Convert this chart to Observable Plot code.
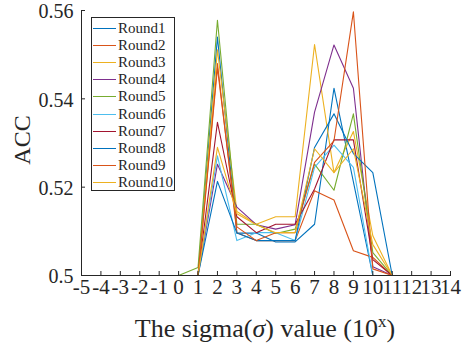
<!DOCTYPE html>
<html>
<head>
<meta charset="utf-8">
<script src="https://cdn.jsdelivr.net/npm/d3@7"></script>
<script src="https://cdn.jsdelivr.net/npm/@observablehq/plot@0.6"></script>
<style>
  body { margin: 0; background: #fff; }
  #chart { position: relative; width: 466px; height: 349px; }
  .legend {
    position: absolute; left: 91px; top: 17px; width: 84px; height: 174px;
    box-sizing: border-box; border: 1px solid #262626; background: #fff;
    padding-top: 2px; font-family: "Liberation Serif", serif; font-size: 15px; color: #262626;
  }
  .legend div { height: 17.1px; display: flex; align-items: center; white-space: nowrap; }
  .legend i { display: inline-block; width: 23px; height: 0; border-top: 1.3px solid; margin: 0 2px 0 1px; }
</style>
</head>
<body>
<div id="chart"></div>
<script>
// sigma exponents on the x axis
const sigma = d3.range(-5, 15);
const xTicks = d3.range(-5, 15);
const yTicks = [0.5, 0.52, 0.54, 0.56];
const yTickLabels = ["0.5", "0.52", "0.54", "0.56"];

const rounds = ["Round1", "Round2", "Round3", "Round4", "Round5",
                "Round6", "Round7", "Round8", "Round9", "Round10"];
// MATLAB default line colour order (cycles after seven)
const colors = ["#0072BD", "#D95319", "#EDB120", "#7E2F8E", "#77AC30",
                "#4DBEEE", "#A2142F", "#0072BD", "#D95319", "#EDB120"];

// accuracy per round, x = -5 … 14
const round1  = [0.5,0.5,0.5,0.5,0.5,0.5,0.5,   0.554, 0.5096,0.5096,0.5076,0.5076,0.5116,0.5424,0.5212,0.5,   0.5,0.5,0.5,0.5];
const round2  = [0.5,0.5,0.5,0.5,0.5,0.5,0.5,   0.548, 0.5097,0.5079,0.5079,0.5079,0.5192,0.5171,0.5056,0.5041,0.5,0.5,0.5,0.5];
const round3  = [0.5,0.5,0.5,0.5,0.5,0.5,0.5,   0.5511,0.5145,0.5116,0.5133,0.5133,0.5523,0.5233,0.5326,0.509, 0.5,0.5,0.5,0.5];
const round4  = [0.5,0.5,0.5,0.5,0.5,0.5,0.5,   0.5252,0.5155,0.5115,0.5105,0.5115,0.537, 0.5522,0.5424,0.502, 0.5,0.5,0.5,0.5];
const round5  = [0.5,0.5,0.5,0.5,0.5,0.5,0.5018,0.5578,0.5116,0.5116,0.5095,0.5105,0.5252,0.5193,0.5366,0.5052,0.5,0.5,0.5,0.5];
const round6  = [0.5,0.5,0.5,0.5,0.5,0.5,0.5,   0.5271,0.5079,0.5097,0.5097,0.5079,0.5245,0.5295,0.5245,0.5,   0.5,0.5,0.5,0.5];
const round7  = [0.5,0.5,0.5,0.5,0.5,0.5,0.5,   0.5347,0.5133,0.5097,0.5116,0.5116,0.5196,0.5307,0.5307,0.5036,0.5,0.5,0.5,0.5];
const round8  = [0.5,0.5,0.5,0.5,0.5,0.5,0.5,   0.5213,0.5096,0.5079,0.5079,0.5079,0.529, 0.5366,0.5276,0.5233,0.5,0.5,0.5,0.5];
const round9  = [0.5,0.5,0.5,0.5,0.5,0.5,0.5,   0.547, 0.511, 0.5079,0.5097,0.5097,0.5256,0.5305,0.5597,0.5015,0.5,0.5,0.5,0.5];
const round10 = [0.5,0.5,0.5,0.5,0.5,0.5,0.5,   0.529, 0.514, 0.5115,0.5097,0.5097,0.5287,0.5233,0.5287,0.507, 0.5,0.5,0.5,0.5];

const series = [round1, round2, round3, round4, round5, round6, round7, round8, round9, round10];
const data = series.flatMap((vals, i) => vals.map((acc, j) => ({round: rounds[i], sigma: sigma[j], acc})));

const W = 466, H = 349;
const margin = {top: 10, right: 16, bottom: 74, left: 81};
const innerW = W - margin.left - margin.right;
const innerH = H - margin.top - margin.bottom;
const ink = "#262626";

const chart = Plot.plot({
  width: W, height: H,
  marginTop: margin.top, marginRight: margin.right, marginBottom: margin.bottom, marginLeft: margin.left,
  style: {fontFamily: "Liberation Serif, serif", fontSize: "21px", color: ink, background: "#fff", overflow: "visible"},
  x: {domain: [-5, 14]},
  y: {domain: [0.5, 0.56]},
  color: {domain: rounds, range: colors},
  marks: [
    Plot.line(data, {x: "sigma", y: "acc", z: "round", stroke: "round", strokeWidth: 1.1}),
    Plot.frame({anchor: "left", stroke: ink}),
    Plot.frame({anchor: "bottom", stroke: ink}),
    // inward tick marks
    Plot.tickX(xTicks, {x: d => d, insetTop: innerH - 4, stroke: ink}),
    Plot.tickY(yTicks, {y: d => d, insetRight: innerW - 4, stroke: ink}),
    Plot.axisX({ticks: xTicks, tickFormat: d => String(d), tickSize: 0, tickPadding: 4, label: null, fill: ink}),
    Plot.axisY({ticks: yTicks, tickFormat: (d, i) => yTickLabels[i], tickSize: 0, tickPadding: 8, dy: 1.5, fontSize: 20, label: null, fill: ink})
  ]
});

const host = document.getElementById("chart");
host.appendChild(chart);

// axis titles
const svg = d3.select(chart);
const xt = svg.append("text")
  .attr("x", 265).attr("y", 337)
  .attr("text-anchor", "middle")
  .attr("font-family", "Liberation Serif, serif")
  .attr("font-size", 26).attr("fill", ink);
xt.append("tspan").text("The sigma(");
xt.append("tspan").attr("font-style", "italic").text("σ");
xt.append("tspan").text(") value (10");
xt.append("tspan").attr("dy", -10).attr("font-size", 17).text("x");
xt.append("tspan").attr("dy", 10).text(")");

svg.append("text")
  .attr("transform", "translate(30,140) rotate(-90)")
  .attr("text-anchor", "middle")
  .attr("font-family", "Liberation Serif, serif")
  .attr("font-size", 24).attr("fill", ink)
  .text("ACC");

// legend box
const legend = document.createElement("div");
legend.className = "legend";
rounds.forEach((r, i) => {
  const row = document.createElement("div");
  const sw = document.createElement("i");
  sw.style.borderTopColor = colors[i];
  row.appendChild(sw);
  row.appendChild(document.createTextNode(r));
  legend.appendChild(row);
});
host.appendChild(legend);
</script>
</body>
</html>
